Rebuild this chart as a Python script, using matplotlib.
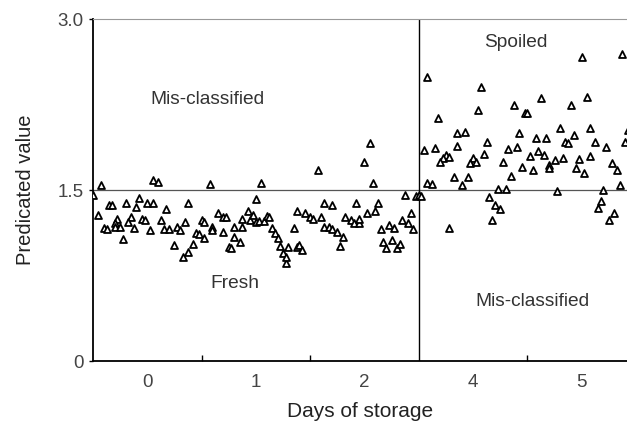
import matplotlib.pyplot as plt

plt.rcParams['font.family'] = ['Liberation Sans', 'DejaVu Sans']

# sample number (40 samples per day) and predicted value
day0_sample = [0, 3, 22, 24, 6, 7, 12, 17, 16, 20, 22, 27, 35, 2, 9, 8, 14, 13, 18, 19,
               25, 34, 40, 4, 5, 8, 10, 15, 21, 26, 28, 31, 32, 11, 30, 33, 35, 37, 38, 39]
day0_value = [1.46, 1.54, 1.59, 1.57, 1.37, 1.37, 1.39, 1.43, 1.35, 1.39, 1.39, 1.33, 1.39,
              1.28, 1.25, 1.21, 1.26, 1.22, 1.25, 1.24, 1.24, 1.22, 1.24, 1.17, 1.16, 1.18,
              1.18, 1.17, 1.15, 1.16, 1.16, 1.18, 1.15, 1.07, 1.02, 0.91, 0.96, 1.03, 1.12, 1.11]

day1_sample = [43, 62, 60, 41, 41, 44, 44, 48, 46, 48, 49, 52, 52, 54, 50, 51, 55, 55, 57,
               58, 59, 60, 61, 63, 64, 65, 66, 67, 68, 69, 70, 71, 72, 75, 76, 77, 71, 74,
               75, 78, 80, 81]
day1_value = [1.55, 1.56, 1.42, 1.22, 1.08, 1.18, 1.15, 1.13, 1.30, 1.26, 1.26, 1.18, 1.09,
              1.04, 1.00, 0.99, 1.25, 1.18, 1.32, 1.24, 1.28, 1.22, 1.23, 1.23, 1.27, 1.26,
              1.17, 1.12, 1.08, 1.01, 0.95, 0.86, 1.00, 1.00, 1.02, 0.97, 0.91, 1.17, 1.32,
              1.30, 1.26, 1.25]

day2_sample = [83, 102, 100, 103, 85, 88, 97, 105, 104, 115, 119, 120, 84, 85, 87, 88, 90,
               92, 91, 93, 95, 96, 98, 98, 101, 106, 109, 111, 107, 108, 110, 112, 113,
               114, 116, 117, 118]
day2_value = [1.68, 1.91, 1.75, 1.56, 1.39, 1.37, 1.39, 1.39, 1.32, 1.46, 1.45, 1.46, 1.26,
              1.18, 1.18, 1.16, 1.13, 1.09, 1.01, 1.26, 1.24, 1.21, 1.21, 1.25, 1.30, 1.16,
              1.19, 1.17, 1.04, 0.99, 1.06, 0.99, 1.03, 1.24, 1.21, 1.30, 1.16]

day4_sample = [123, 143, 142, 155, 159, 160, 127, 134, 137, 145, 157, 122, 126, 130, 129,
               128, 131, 134, 140, 139, 141, 144, 153, 156, 151, 158, 154, 123, 125, 133,
               138, 136, 121, 149, 152, 146, 148, 150, 147, 131]
day4_value = [2.49, 2.40, 2.20, 2.25, 2.18, 2.18, 2.13, 2.00, 2.01, 1.92, 2.00, 1.85, 1.87,
              1.81, 1.78, 1.75, 1.79, 1.89, 1.78, 1.74, 1.75, 1.82, 1.86, 1.88, 1.75, 1.70,
              1.62, 1.56, 1.55, 1.61, 1.61, 1.54, 1.45, 1.51, 1.51, 1.44, 1.37, 1.33, 1.24,
              1.17]

day5_sample = [180, 195, 165, 182, 176, 172, 183, 163, 167, 174, 177, 175, 185, 189, 196,
               161, 164, 166, 170, 173, 168, 168, 162, 179, 178, 181, 183, 191, 193, 171,
               188, 194, 187, 186, 192, 190, 197]
day5_value = [2.67, 2.69, 2.31, 2.32, 2.25, 2.04, 2.04, 1.96, 1.96, 1.92, 1.98, 1.91, 1.92,
              1.88, 1.92, 1.80, 1.84, 1.81, 1.76, 1.78, 1.72, 1.69, 1.68, 1.77, 1.69, 1.65,
              1.80, 1.74, 1.68, 1.49, 1.50, 1.54, 1.40, 1.34, 1.30, 1.24, 2.03]

day_labels = ['0', '1', '2', '4', '5']
samples_per_day = 40
threshold = 1.5

fig = plt.figure(figsize=(6.27, 4.22), dpi=100)
ax = fig.add_axes([0.1483, 0.1445, 0.8517, 0.8104])

all_x = day0_sample + day1_sample + day2_sample + day4_sample + day5_sample
all_y = day0_value + day1_value + day2_value + day4_value + day5_value
ax.scatter(all_x, all_y, marker='^', s=25, facecolor='white', edgecolor='black',
           linewidths=1.3, zorder=3)

# threshold line and fresh / spoiled boundary
ax.axhline(threshold, color='#555555', lw=0.9, zorder=1)
ax.axvline(3 * samples_per_day, color='black', lw=1.0, zorder=1)

ax.set_xlim(0, 196.7)
ax.set_ylim(0, 3.0)

ax.set_yticks([0, 1.5, 3.0])
ax.set_yticklabels(['0', '1.5', '3.0'])
centers = [samples_per_day * (i + 0.5) for i in range(len(day_labels))]
ax.set_xticks(centers)
ax.set_xticklabels(day_labels)
ax.set_xticks([samples_per_day * i for i in (1, 2, 4)], minor=True)
ax.tick_params(axis='x', which='major', length=0, pad=9, labelsize=13.5, labelcolor='#444444')
ax.tick_params(axis='x', which='minor', direction='in', length=4, width=1.0)
ax.tick_params(axis='y', length=3, width=1.0, labelsize=13.5, labelcolor='#444444', pad=4)

ax.spines['right'].set_visible(False)
ax.spines['top'].set_color('#999999')
ax.spines['top'].set_linewidth(0.8)
ax.spines['left'].set_linewidth(1.3)
ax.spines['bottom'].set_linewidth(1.3)

txt = dict(fontsize=13.8, color='#333333', ha='center', va='center')
ax.text(42.0, 2.29, 'Mis-classified', **txt)
ax.text(155.7, 2.79, 'Spoiled', **txt)
ax.text(52.3, 0.68, 'Fresh', **txt)
ax.text(161.7, 0.526, 'Mis-classified', **txt)

ax.set_xlabel('Days of storage', fontsize=15, color='#222222', labelpad=8)
ax.set_ylabel('Predicated value', fontsize=14.5, color='#222222', labelpad=16)

fig.savefig('out.png', dpi=100)
